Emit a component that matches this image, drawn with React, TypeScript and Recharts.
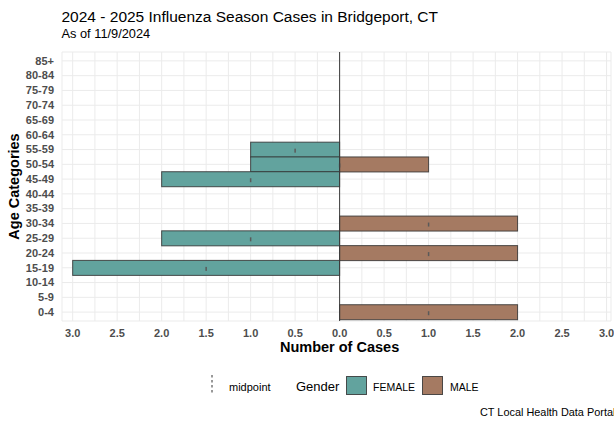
import { BarChart, Bar, XAxis, YAxis, CartesianGrid, ReferenceLine, Label } from 'recharts';

// top row first, as drawn
const ageGroups = [
  '85+', '80-84', '75-79', '70-74', '65-69', '60-64', '55-59', '50-54', '45-49',
  '40-44', '35-39', '30-34', '25-29', '20-24', '15-19', '10-14', '5-9', '0-4',
];
const femaleCases = [0, 0, 0, 0, 0, 0, 1, 1, 2, 0, 0, 0, 2, 0, 3, 0, 0, 0];
const maleCases = [0, 0, 0, 0, 0, 0, 0, 1, 0, 0, 0, 2, 0, 2, 0, 0, 0, 2];
const caseTicks = [
  -3, -2.75, -2.5, -2.25, -2, -1.75, -1.5, -1.25, -1, -0.75, -0.5, -0.25, 0,
  0.25, 0.5, 0.75, 1, 1.25, 1.5, 1.75, 2, 2.25, 2.5, 2.75, 3,
];

const FEMALE_FILL = '#62a39e';
const MALE_FILL = '#a57a62';
const FONT = '"Liberation Sans", Arial, sans-serif';

// females plotted to the left; midpoint = centre of the row's net bar
const rows = ageGroups.map((age, i) => ({
  age,
  female: femaleCases[i] ? -femaleCases[i] : null,
  male: maleCases[i] ? maleCases[i] : null,
  mid: (maleCases[i] - femaleCases[i]) / 2,
}));

function BarWithMidpoint(props: any) {
  const { x, y, width, height, fill, payload, series } = props;
  if (!width || !height || !payload) return null;
  const left = Math.min(x, x + width);
  const w = Math.abs(width);
  const value = payload[series];
  const unit = w / Math.abs(value);
  const zeroX = value < 0 ? left + w : left;
  const showMid = series === 'male' || payload.male == null;
  const midX = zeroX + payload.mid * unit;
  const cy = y + height / 2;
  return (
    <g>
      <rect x={left} y={y} width={w} height={height} fill={fill} stroke="#333" strokeOpacity={0.85} strokeWidth={1} />
      {showMid && <rect x={midX - 0.75} y={cy - 1} width={1.5} height={4} fill="#5a5a5a" />}
    </g>
  );
}

function CaseTick({ x, y, payload }: any) {
  const v = payload.value;
  if (Math.round(v * 2) !== v * 2) return null;
  return (
    <text x={x} y={y} dy={15.7} textAnchor="middle" fontSize={11} fontWeight="bold" fill="#4d4d4d" fontFamily={FONT}>
      {Math.abs(v).toFixed(1)}
    </text>
  );
}

function AgeTick({ x, y, payload }: any) {
  return (
    <text x={x - 8} y={y} dy={3.8} textAnchor="end" fontSize={11} fontWeight="bold" fill="#4d4d4d" fontFamily={FONT}>
      {payload.value}
    </text>
  );
}

export default function App() {
  return (
    <div style={{ position: 'fixed', left: 0, top: 0, width: 614, height: 424, overflow: 'hidden', background: '#fff', fontFamily: FONT }}>
      <BarChart
        width={614}
        height={424}
        data={rows}
        layout="vertical"
        stackOffset="sign"
        barCategoryGap={0}
        margin={{ top: 52, right: 3, bottom: 73, left: 8 }}
      >
        <CartesianGrid stroke="#ebebeb" strokeWidth={1} />
        <XAxis
          type="number"
          domain={[-3.12, 3.05]}
          ticks={caseTicks}
          interval={0}
          allowDataOverflow
          axisLine={false}
          tickLine={false}
          tickSize={0}
          tickMargin={0}
          height={30}
          tick={<CaseTick />}
        >
          <Label
            content={({ viewBox }: any) => (
              <text x={viewBox.x + 277.6} y={viewBox.y + 31} textAnchor="middle" fontSize={14.5} fontWeight="bold" fill="#000" fontFamily={FONT}>
                Number of Cases
              </text>
            )}
          />
        </XAxis>
        <YAxis
          type="category"
          dataKey="age"
          width={54}
          padding={{ top: 1.5, bottom: 1.5 }}
          axisLine={false}
          tickLine={false}
          tickSize={0}
          tickMargin={0}
          interval={0}
          tick={<AgeTick />}
        >
          <Label
            content={({ viewBox }: any) => (
              <text
                x={19}
                y={viewBox.y + viewBox.height / 2}
                transform={`rotate(-90, 19, ${viewBox.y + viewBox.height / 2})`}
                textAnchor="middle"
                fontSize={14.5}
                fontWeight="bold"
                fill="#000"
                fontFamily={FONT}
              >
                Age Categories
              </text>
            )}
          />
        </YAxis>
        <Bar
          dataKey="female"
          name="FEMALE"
          stackId="g"
          fill={FEMALE_FILL}
          shape={(p: any) => <BarWithMidpoint {...p} series="female" />}
          isAnimationActive={false}
        />
        <Bar
          dataKey="male"
          name="MALE"
          stackId="g"
          fill={MALE_FILL}
          shape={(p: any) => <BarWithMidpoint {...p} series="male" />}
          isAnimationActive={false}
        />
        <ReferenceLine x={0} stroke="#3a3a3a" strokeWidth={1} />
      </BarChart>

      <svg width={614} height={424} style={{ position: 'absolute', left: 0, top: 0, pointerEvents: 'none' }} fontFamily={FONT}>
        <text x={61.5} y={21.7} fontSize={15.5} fill="#000">
          2024 - 2025 Influenza Season Cases in Bridgeport, CT
        </text>
        <text x={61.5} y={37.5} fontSize={12.8} fill="#000">
          As of 11/9/2024
        </text>

        {/* legend */}
        <line x1={212} y1={375} x2={212} y2={393} stroke="#333" strokeWidth={1} strokeDasharray="2.5 2.5" />
        <text x={229} y={390.5} fontSize={11} fill="#000">midpoint</text>
        <text x={296} y={391} fontSize={13} fill="#000">Gender</text>
        <rect x={346.5} y={376.5} width={20} height={18} fill={FEMALE_FILL} stroke="#333" strokeOpacity={0.85} />
        <text x={373} y={390.5} fontSize={10.5} fill="#000">FEMALE</text>
        <rect x={422.5} y={376.5} width={20} height={18} fill={MALE_FILL} stroke="#333" strokeOpacity={0.85} />
        <text x={450} y={390.5} fontSize={10.5} fill="#000">MALE</text>

        <text x={480} y={415.7} fontSize={10.9} fill="#000">
          CT Local Health Data Portal
        </text>
      </svg>
    </div>
  );
}
